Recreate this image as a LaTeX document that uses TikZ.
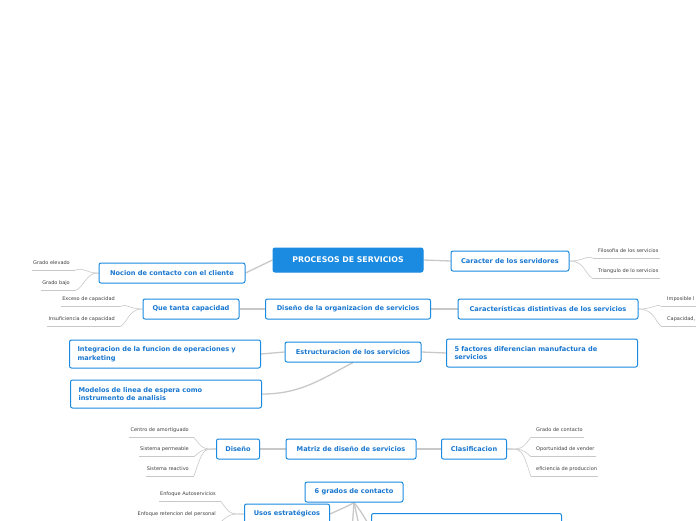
\documentclass[tikz,border=0pt]{standalone}
\usepackage{fontspec}
\setmainfont{DejaVu Sans}
\usetikzlibrary{backgrounds}
\definecolor{bl}{HTML}{1A8BE0}
\definecolor{bt}{HTML}{1877D0}
\definecolor{ln}{HTML}{C8C8C8}
\begin{document}
\begin{tikzpicture}[x=1pt,y=-1pt,
 box/.style={draw=bl,line width=1pt,rounded corners=2pt,fill=white,text=bt,font=\fontsize{6.6}{8.5}\selectfont\bfseries,inner sep=0pt,minimum height=20pt,align=center},
 wbox/.style={box,align=left,text width=#1,minimum height=28pt,inner xsep=8pt},
 leaf/.style={font=\fontsize{5}{6}\selectfont,text=black!75,inner sep=1pt},
 con/.style={draw=ln,line width=1.3pt},
 thin/.style={draw=ln,line width=0.6pt}]
\useasboundingbox (0,0) rectangle (696,520);
\coordinate (b2) at (352,530);\coordinate (b3) at (360,530);\coordinate (b4) at (372,530);
\node[box,fill=bl,draw=bl,text=white,minimum width=150pt,minimum height=24pt,font=\fontsize{7.8}{9}\selectfont\bfseries] (root) at (348,260) {PROCESOS DE SERVICIOS};
\node[box,minimum width=146pt] (noc) at (172,273) {Nocion de contacto con el cliente};
\node[box,minimum width=118pt] (car) at (510,261) {Caracter de los servidores};
\node[box,minimum width=165pt] (dis) at (348,309) {Diseño de la organizacion de servicios};
\node[box,minimum width=96pt] (que) at (191,309) {Que tanta capacidad};
\node[box,minimum width=180pt] (cdi) at (548,309) {Características distintivas de los servicios};
\node[box,minimum width=136pt] (est) at (353,352) {Estructuracion de los servicios};
\node[wbox=175pt] (fac) at (542,353) {5 factores diferencian manufactura de\\servicios};
\node[wbox=175pt] (int) at (165,354) {Integracion de la funcion de operaciones y\\marketing};
\node[wbox=175pt] (mod) at (166,394) {Modelos de linea de espera como\\instrumento de analisis};
\node[box,minimum width=130pt] (mat) at (351,449) {Matriz de diseño de servicios};
\node[box,minimum width=43pt] (dsn) at (238,449) {Diseño};
\node[box,minimum width=65pt] (cla) at (474,449) {Clasificacion};
\node[box,minimum width=98pt] (sei) at (354,492) {6 grados de contacto};
\node[box,minimum width=85pt] (uso) at (287,514) {Usos estratégicos};
\node[box,minimum width=190pt,minimum height=20pt,anchor=north west] (bot) at (371,513) {};
\node[leaf,anchor=east] (l1) at (71,263) {Grado elevado};
\node[leaf,anchor=east] (l2) at (71,283) {Grado bajo};
\node[leaf,anchor=east] (l3) at (116,299) {Exceso de capacidad};
\node[leaf,anchor=east] (l4) at (116,319) {Insuficiencia de capacidad};
\node[leaf,anchor=west] (l5) at (597,251) {Filosofia de los servicios};
\node[leaf,anchor=west] (l6) at (597,271) {Triangulo de lo servicios};
\node[leaf,anchor=west] (l7) at (666,299) {Imposible l};
\node[leaf,anchor=west] (l8) at (666,319) {Capacidad,};
\node[leaf,anchor=east] (l9) at (190,430) {Centro de amortiguado};
\node[leaf,anchor=east] (l10) at (190,449) {Sistema permeable};
\node[leaf,anchor=east] (l11) at (190,469) {Sistema reactivo};
\node[leaf,anchor=west] (l12) at (535,430) {Grado de contacto};
\node[leaf,anchor=west] (l13) at (535,449) {Oportunidad de vender};
\node[leaf,anchor=west] (l14) at (535,469) {eficiencia de produccion};
\node[leaf,anchor=east] (l15) at (217,494) {Enfoque Autoservicios};
\node[leaf,anchor=east] (l16) at (217,514) {Enfoque retencion del personal};
\begin{pgfonlayer}{background}
\draw[con] (root.west) -- (noc.east);
\draw[con] (root.east) -- (car.west);
\draw[con] (dis.west) -- (que.east);
\draw[con] (dis.east) -- (cdi.west);
\draw[con] (est.east) -- (fac.west);
\draw[con] (est.west) -- (int.east);
\draw[con] (est.south) .. controls (320,380) and (300,394) .. (mod.east);
\draw[con] (mat.west) -- (dsn.east);
\draw[con] (mat.east) -- (cla.west);
\draw[con] (sei.south) -- (b2);
\draw[con] (sei.south) -- (b3);
\draw[con] (sei.south) .. controls (350,505) .. (uso.east);
\draw[con] (sei.south) .. controls (360,510) .. (b4);
\foreach \n in {l1,l2,l3,l4,l9,l10,l11,l15,l16}{
  \draw[thin] ([yshift=-4pt]\n.south west) -- ([yshift=-4pt,xshift=4pt]\n.south east);}
\foreach \n in {l5,l6,l7,l8,l12,l13,l14}{
  \draw[thin] ([yshift=-4pt,xshift=-4pt]\n.south west) -- ([yshift=-4pt]\n.south east);}
\draw[thin] (noc.west) .. controls (85,273) and (85,267) .. ([yshift=-4pt,xshift=4pt]l1.south east);
\draw[thin] (noc.west) .. controls (85,273) and (85,287) .. ([yshift=-4pt,xshift=4pt]l2.south east);
\draw[thin] (que.west) .. controls (128,309) and (128,303) .. ([yshift=-4pt,xshift=4pt]l3.south east);
\draw[thin] (que.west) .. controls (128,309) and (128,323) .. ([yshift=-4pt,xshift=4pt]l4.south east);
\draw[thin] (car.east) .. controls (585,261) and (585,255) .. ([yshift=-4pt,xshift=-4pt]l5.south west);
\draw[thin] (car.east) .. controls (585,261) and (585,275) .. ([yshift=-4pt,xshift=-4pt]l6.south west);
\draw[thin] (cdi.east) .. controls (655,309) and (655,303) .. ([yshift=-4pt,xshift=-4pt]l7.south west);
\draw[thin] (cdi.east) .. controls (655,309) and (655,323) .. ([yshift=-4pt,xshift=-4pt]l8.south west);
\foreach \n in {l9,l10,l11}{\draw[thin] (dsn.west) .. controls (203,449) .. ([yshift=-4pt,xshift=4pt]\n.south east);}
\foreach \n in {l12,l13,l14}{\draw[thin] (cla.east) .. controls (522,449) .. ([yshift=-4pt,xshift=-4pt]\n.south west);}
\foreach \n in {l15,l16}{\draw[thin] (uso.west) .. controls (230,514) .. ([yshift=-4pt,xshift=4pt]\n.south east);}
\end{pgfonlayer}
\end{tikzpicture}
\end{document}
